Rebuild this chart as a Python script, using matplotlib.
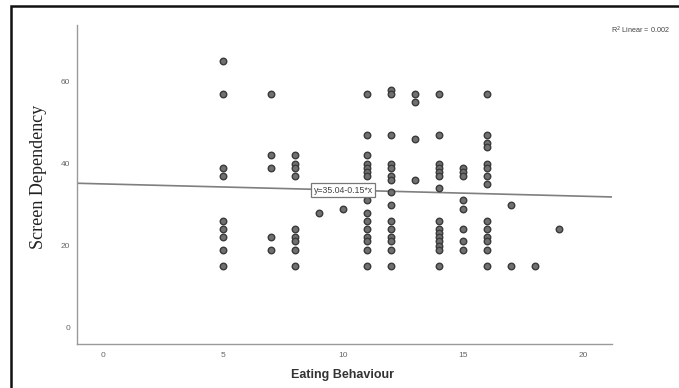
import matplotlib

matplotlib.use("Agg")
import matplotlib.pyplot as plt
from matplotlib.patches import Rectangle

# Eating Behaviour score (x) and Screen Dependency score (y), one entry per respondent
eating = [
    5, 5, 5, 5, 5, 5, 5, 5, 5,
    7, 7, 7, 7, 7,
    8, 8, 8, 8, 8, 8, 8, 8, 8,
    9,
    10,
    11, 11, 11, 11, 11, 11, 11, 11, 11, 11, 11, 11, 11, 11, 11,
    12, 12, 12, 12, 12, 12, 12, 12, 12, 12, 12, 12, 12, 12, 12,
    13, 13, 13, 13,
    14, 14, 14, 14, 14, 14, 14, 14, 14, 14, 14, 14, 14, 14, 14,
    15, 15, 15, 15, 15, 15, 15, 15,
    16, 16, 16, 16, 16, 16, 16, 16, 16, 16, 16, 16, 16, 16,
    17, 17,
    18,
    19,
]
screen = [
    65, 57, 39, 37, 26, 24, 22, 19, 15,
    57, 42, 39, 22, 19,
    42, 40, 39, 37, 24, 22, 21, 19, 15,
    28,
    29,
    57, 47, 42, 40, 39, 38, 37, 31, 28, 26, 24, 22, 21, 19, 15,
    58, 57, 47, 40, 39, 37, 36, 33, 30, 26, 24, 22, 21, 19, 15,
    57, 55, 46, 36,
    57, 47, 40, 39, 38, 37, 34, 26, 24, 23, 22, 21, 20, 19, 15,
    39, 38, 37, 31, 29, 24, 21, 19,
    57, 47, 45, 44, 40, 39, 37, 35, 26, 24, 22, 21, 19, 15,
    30, 15,
    15,
    24,
]

intercept = 35.04
slope = -0.15
r_squared = 0.002

x_ticks = [0, 5, 10, 15, 20]
y_ticks = [0, 20, 40, 60]

fig = plt.figure(figsize=(6.79, 3.88), dpi=100)
ax = fig.add_axes([0.1134, 0.1134, 0.7879, 0.8222])

xmin, xmax = -1.1, 21.2
ax.set_xlim(xmin, xmax)
ax.set_ylim(-4.0, 73.8)

# fit line across the full x range
ax.plot([xmin, xmax], [intercept + slope * xmin, intercept + slope * xmax],
        color="#7f7f7f", lw=1.2, zorder=1)

ax.scatter(eating, screen, s=22, facecolor="#707070", edgecolor="#3a3a3a",
           linewidths=1.0, zorder=2)

ax.text(10, intercept + slope * 10, f"y={intercept:.2f}{slope:+.2f}*x",
        ha="center", va="center", fontsize=6.3, color="#444444",
        family="Liberation Sans", zorder=3,
        bbox=dict(boxstyle="square,pad=0.3", facecolor="white",
                  edgecolor="#777777", lw=0.9))

ax.set_xticks(x_ticks)
ax.set_yticks(y_ticks)
ax.tick_params(length=0, labelsize=6, labelcolor="#666666", pad=6)
ax.tick_params(axis="y", pad=5)
for lbl in ax.get_xticklabels() + ax.get_yticklabels():
    lbl.set_family("Liberation Sans")

for side in ("top", "right"):
    ax.spines[side].set_visible(False)
for side in ("left", "bottom"):
    ax.spines[side].set_color("#9a9a9a")
    ax.spines[side].set_linewidth(1.0)

ax.set_xlabel("Eating Behaviour", fontsize=9, fontweight="bold",
              family="Liberation Sans", color="#333333")
ax.xaxis.set_label_coords(0.497, -0.078)
ax.set_ylabel("Screen Dependency", fontsize=13, family="Liberation Serif",
              color="#222222")
ax.yaxis.set_label_coords(-0.056, 0.525)

fig.text(0.987, 0.922, f"R$^2$ Linear = {r_squared:.3f}", ha="right",
         va="center", fontsize=5.2, color="#444444", family="Liberation Sans")

# black outer frame, cut off at the right and bottom edges like the source image
fig.patches.append(Rectangle((11 / 679, -0.2), 1.2, 1.2 - 7 / 388 + 0.002,
                             transform=fig.transFigure, fill=False,
                             edgecolor="#111111", lw=1.8, clip_on=False))

fig.savefig("out.png", dpi=100)
